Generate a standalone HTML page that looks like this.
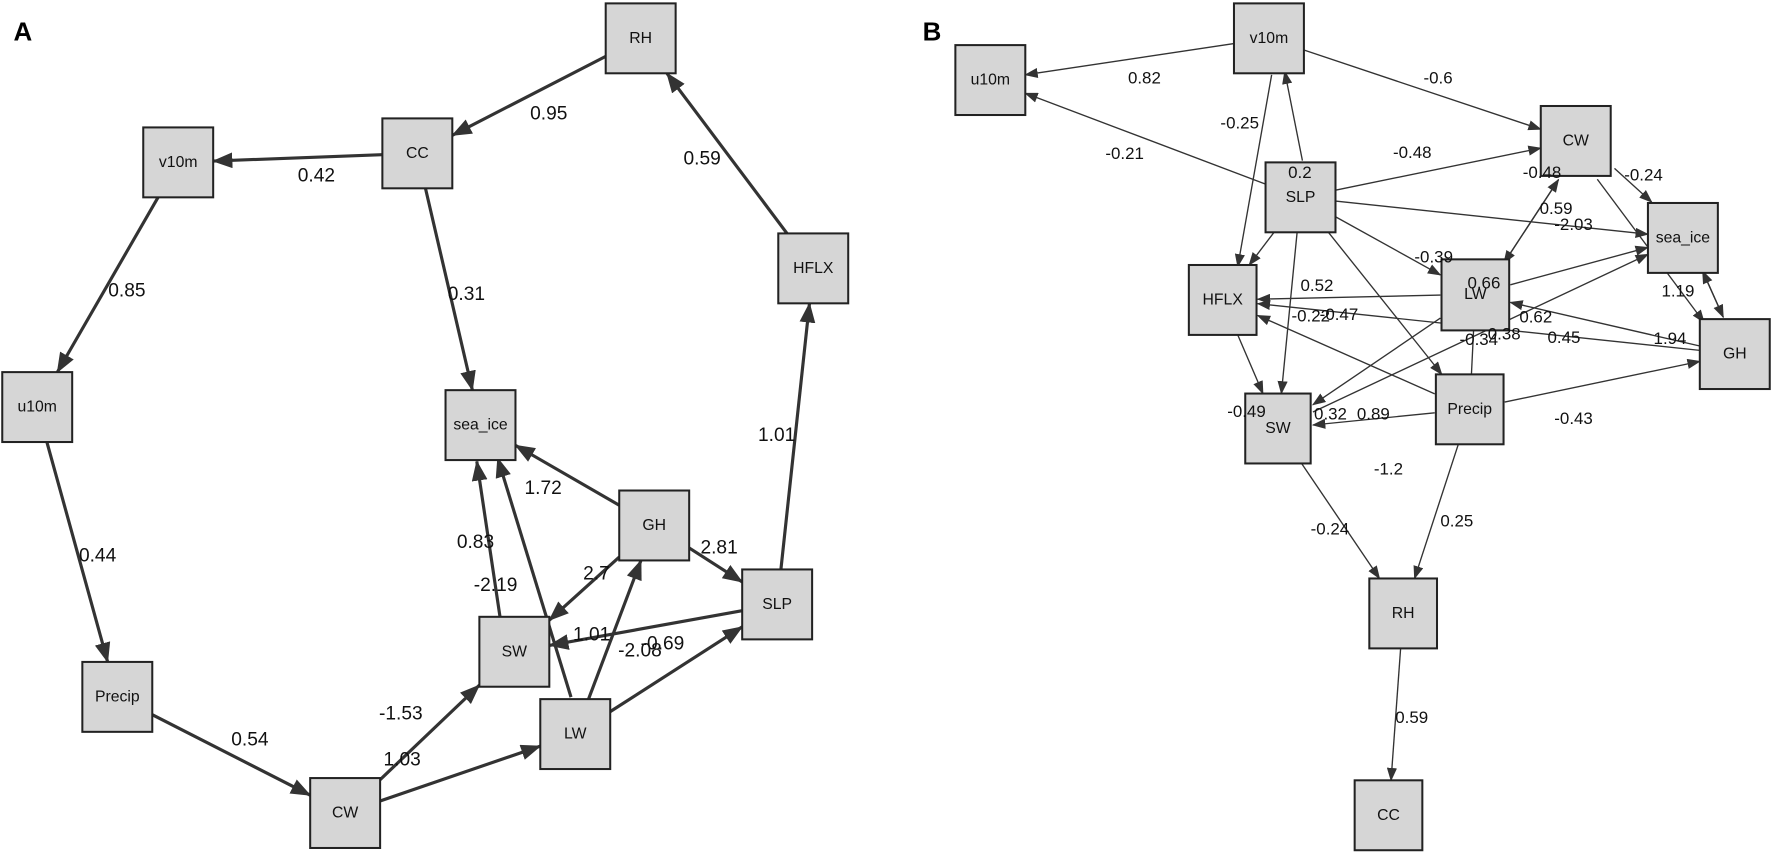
<!DOCTYPE html>
<html><head><meta charset="utf-8"><style>
html,body{margin:0;padding:0;background:#fff;}
svg{display:block;}
.n rect{fill:#d6d6d6;stroke:#222;stroke-width:1.8;}
.n text{font-family:"Liberation Sans",sans-serif;font-size:14px;fill:#111;text-anchor:middle;dominant-baseline:central;}
.la{font-family:"Liberation Sans",sans-serif;font-size:17px;fill:#111;}
.lb{font-family:"Liberation Sans",sans-serif;font-size:15px;fill:#111;}
</style></head><body>
<svg id="s" width="1772" height="857" viewBox="0 0 1571 760" preserveAspectRatio="none" xmlns="http://www.w3.org/2000/svg">
<defs>
<marker id="ma" markerWidth="10" markerHeight="10" refX="9" refY="5" orient="auto" markerUnits="userSpaceOnUse" viewBox="0 0 10 10"><path d="M0,0 L10,5 L0,10 z" fill="#333" transform="scale(1)"/></marker>
<marker id="mA" markerWidth="18" markerHeight="14" refX="17" refY="7" orient="auto" markerUnits="userSpaceOnUse"><path d="M0,0 L18,7 L0,14 z" fill="#333"/></marker>
<marker id="mB" markerWidth="12" markerHeight="9" refX="11" refY="4.5" orient="auto" markerUnits="userSpaceOnUse"><path d="M0,0 L12,4.5 L0,9 z" fill="#333"/></marker>
</defs>
<g id="edges"></g>
<text x="12" y="36" style="font-family:'Liberation Sans',sans-serif;font-size:23px;font-weight:bold">A</text>
<text x="818" y="36" style="font-family:'Liberation Sans',sans-serif;font-size:23px;font-weight:bold">B</text>
<g class="n">
<g><rect x="537" y="3" width="62" height="62"/><text x="568" y="34">RH</text></g>
<g><rect x="339" y="105" width="62" height="62"/><text x="370" y="136">CC</text></g>
<g><rect x="127" y="113" width="62" height="62"/><text x="158" y="144">v10m</text></g>
<g><rect x="2" y="330" width="62" height="62"/><text x="33" y="361">u10m</text></g>
<g><rect x="690" y="207" width="62" height="62"/><text x="721" y="238">HFLX</text></g>
<g><rect x="395" y="346" width="62" height="62"/><text x="426" y="377">sea_ice</text></g>
<g><rect x="549" y="435" width="62" height="62"/><text x="580" y="466">GH</text></g>
<g><rect x="658" y="505" width="62" height="62"/><text x="689" y="536">SLP</text></g>
<g><rect x="425" y="547" width="62" height="62"/><text x="456" y="578">SW</text></g>
<g><rect x="73" y="587" width="62" height="62"/><text x="104" y="618">Precip</text></g>
<g><rect x="479" y="620" width="62" height="62"/><text x="510" y="651">LW</text></g>
<g><rect x="275" y="690" width="62" height="62"/><text x="306" y="721">CW</text></g>

<g><rect x="847" y="40" width="62" height="62"/><text x="878" y="71">u10m</text></g>
<g><rect x="1094" y="3" width="62" height="62"/><text x="1125" y="34">v10m</text></g>
<g><rect x="1366" y="94" width="62" height="62"/><text x="1397" y="125">CW</text></g>
<g><rect x="1122" y="144" width="62" height="62"/><text x="1153" y="175">SLP</text></g>
<g><rect x="1461" y="180" width="62" height="62"/><text x="1492" y="211">sea_ice</text></g>
<g><rect x="1054" y="235" width="60" height="62"/><text x="1084" y="266">HFLX</text></g>
<g><rect x="1278" y="230" width="60" height="63"/><text x="1308" y="261">LW</text></g>
<g><rect x="1507" y="283" width="62" height="62"/><text x="1538" y="314">GH</text></g>
<g><rect x="1273" y="332" width="60" height="62"/><text x="1303" y="363">Precip</text></g>
<g><rect x="1104" y="349" width="58" height="62"/><text x="1133" y="380">SW</text></g>
<g><rect x="1214" y="513" width="60" height="62"/><text x="1244" y="544">RH</text></g>
<g><rect x="1201" y="692" width="60" height="62"/><text x="1231" y="723">CC</text></g>
</g>
<g class="la">
<text x="470" y="106">0.95</text>
<text x="606" y="146">0.59</text>
<text x="264" y="161">0.42</text>
<text x="96" y="263">0.85</text>
<text x="397" y="266">0.31</text>
<text x="672" y="391">1.01</text>
<text x="70" y="498">0.44</text>
<text x="205" y="661">0.54</text>
<text x="336" y="638">-1.53</text>
<text x="340" y="679">1.03</text>
<text x="465" y="438">1.72</text>
<text x="405" y="486">0.83</text>
<text x="420" y="524">-2.19</text>
<text x="517" y="514">2.7</text>
<text x="621" y="491">2.81</text>
<text x="508" y="568">1.01</text>
<text x="568" y="576">-0.69</text>
<text x="548" y="582">-2.08</text>
</g>
<g class="lb">
<text x="1000" y="74">0.82</text>
<text x="1262" y="74">-0.6</text>
<text x="980" y="141">-0.21</text>
<text x="1082" y="114">-0.25</text>
<text x="1142" y="158">0.2</text>
<text x="1235" y="140">-0.48</text>
<text x="1365" y="190">0.59</text>
<text x="1350" y="158">-0.48</text>
<text x="1378" y="204">-2.03</text>
<text x="1440" y="160">-0.24</text>
<text x="1473" y="263">1.19</text>
<text x="1254" y="233">-0.39</text>
<text x="1153" y="258">0.52</text>
<text x="1145" y="285">-0.22</text>
<text x="1347" y="286">0.62</text>
<text x="1170" y="284">-0.47</text>
<text x="1301" y="256">0.66</text>
<text x="1319" y="301">0.38</text>
<text x="1294" y="306">-0.34</text>
<text x="1372" y="304">0.45</text>
<text x="1466" y="305">1.94</text>
<text x="1165" y="372">0.32</text>
<text x="1203" y="372">0.89</text>
<text x="1088" y="370">-0.49</text>
<text x="1378" y="376">-0.43</text>
<text x="1218" y="421">-1.2</text>
<text x="1162" y="474">-0.24</text>
<text x="1277" y="467">0.25</text>
<text x="1237" y="641">0.59</text>
</g>
</svg>
<script>
var A={RH:[568,34],CC:[370,136],v10m:[158,144],u10m:[33,361],HFLX:[721,238],sea_ice:[426,377],GH:[580,466],SLP:[689,536],SW:[456,578],Precip:[104,618],LW:[510,651],CW:[306,721]};
var B={u10m:[878,71],v10m:[1125,34],CW:[1397,125],SLP:[1153,175],sea_ice:[1492,211],HFLX:[1084,266],LW:[1308,261],GH:[1538,314],Precip:[1303,363],SW:[1133,380],RH:[1244,544],CC:[1231,723]};
var ea=[["RH","CC"],["HFLX","RH"],["CC","v10m"],["v10m","u10m"],["CC","sea_ice"],["SLP","HFLX"],["u10m","Precip"],["Precip","CW"],["CW","SW"],["CW","LW"],["GH","sea_ice"],["SW","sea_ice",-8],["LW","sea_ice",6],["GH","SW"],["GH","SLP"],["SLP","SW"],["LW","GH"],["LW","SLP"]];
var eb=[["v10m","u10m"],["v10m","CW"],["SLP","u10m"],["v10m","HFLX",-8],["SLP","v10m",8],["SLP","CW"],["SLP","sea_ice"],["CW","LW",-6],["LW","CW",6],["CW","sea_ice",-5],["CW","GH",5],["SLP","LW"],["SLP","HFLX"],["SLP","SW"],["SLP","Precip"],["LW","HFLX"],["LW","sea_ice"],["GH","LW"],["GH","HFLX"],["sea_ice","GH",-4],["GH","sea_ice",4],["LW","SW"],["SW","sea_ice"],["Precip","HFLX"],["HFLX","SW"],["Precip","GH"],["Precip","SW"],["Precip","LW",0,1],["SW","RH"],["Precip","RH"],["RH","CC"]];
var g=document.getElementById("edges"),ns="http://www.w3.org/2000/svg";
function draw(N,E,w,m,h){E.forEach(function(e){var a=N[e[0]],b=N[e[1]],o=e[2]||0;var dx=b[0]-a[0],dy=b[1]-a[1],L=Math.hypot(dx,dy);var px=-dy/L*o,py=dx/L*o;var t=h/Math.max(Math.abs(dx),Math.abs(dy));var l=document.createElementNS(ns,"line");l.setAttribute("x1",a[0]+dx*t+px);l.setAttribute("y1",a[1]+dy*t+py);l.setAttribute("x2",b[0]-dx*t+px);l.setAttribute("y2",b[1]-dy*t+py);l.setAttribute("stroke","#333");l.setAttribute("stroke-width",w);if(!e[3])l.setAttribute("marker-end","url(#"+m+")");g.appendChild(l);});}
draw(A,ea,2.8,"mA",31);draw(B,eb,1.2,"mB",31);
</script>
</body></html>
